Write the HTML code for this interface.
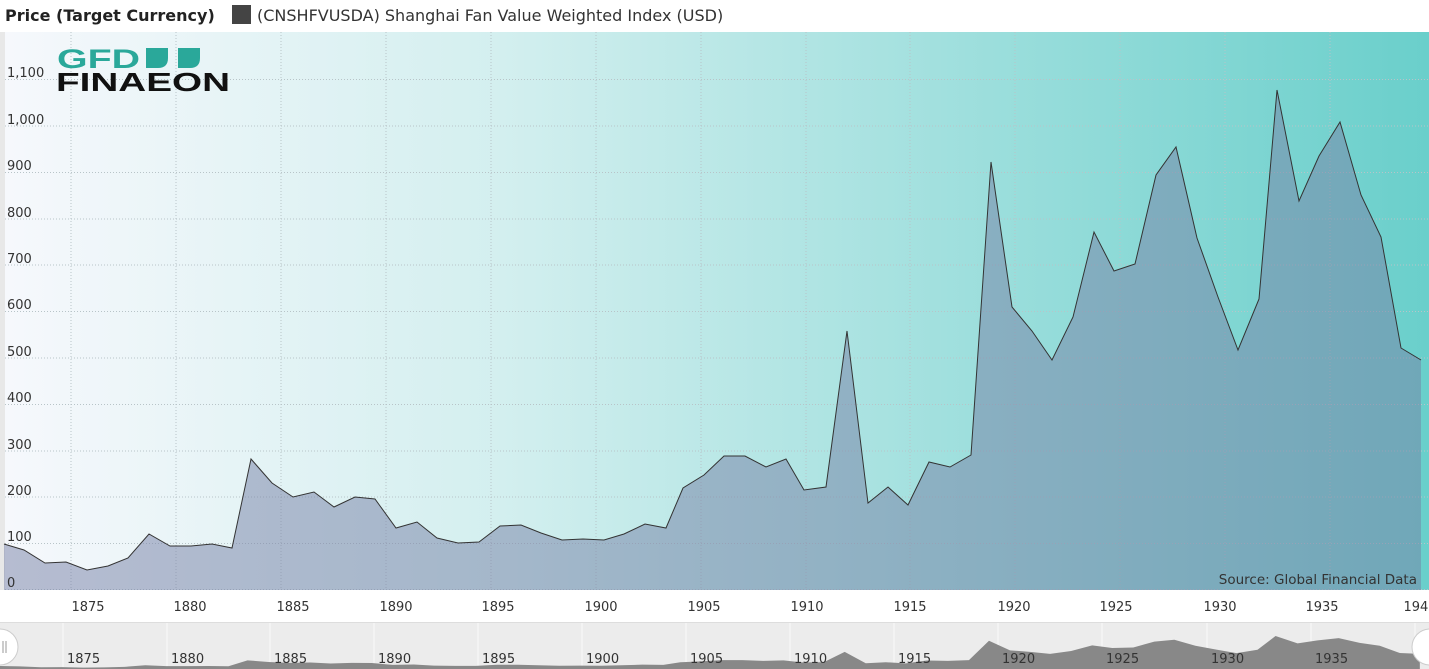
<!DOCTYPE html>
<html><head><meta charset="utf-8"><style>
html,body{margin:0;padding:0;background:#fff;width:1429px;height:669px;overflow:hidden;font-family:"Liberation Sans","DejaVu Sans",sans-serif}
</style></head><body>
<svg width="1429" height="669" viewBox="0 0 1429 669" xmlns="http://www.w3.org/2000/svg" font-family="'DejaVu Sans','Liberation Sans',sans-serif">
<defs>
<linearGradient id="bg" x1="0" x2="1" y1="0" y2="0">
<stop offset="0" stop-color="#f6f8fc"/><stop offset="0.35" stop-color="#d3efef"/><stop offset="1" stop-color="#6acfcb"/>
</linearGradient>
</defs>
<text x="5" y="21" font-size="16" font-weight="bold" fill="#222">Price (Target Currency)</text>
<rect x="232" y="5" width="19" height="19" fill="#444"/>
<text x="257" y="21" font-size="16" fill="#333">(CNSHFVUSDA) Shanghai Fan Value Weighted Index (USD)</text>
<rect x="0" y="32" width="5" height="558" fill="#e8e8e8"/>
<rect x="5" y="32" width="1424" height="558" fill="url(#bg)"/>
<g stroke="#b8c4c8" stroke-dasharray="1,2" stroke-width="1">
<line x1="5" x2="1429" y1="79.5" y2="79.5"/><line x1="5" x2="1429" y1="126" y2="126"/><line x1="5" x2="1429" y1="172.5" y2="172.5"/><line x1="5" x2="1429" y1="219" y2="219"/><line x1="5" x2="1429" y1="265" y2="265"/><line x1="5" x2="1429" y1="311.5" y2="311.5"/><line x1="5" x2="1429" y1="358" y2="358"/><line x1="5" x2="1429" y1="404.5" y2="404.5"/><line x1="5" x2="1429" y1="451" y2="451"/><line x1="5" x2="1429" y1="497" y2="497"/><line x1="5" x2="1429" y1="543.5" y2="543.5"/><line x1="5" x2="1429" y1="589.5" y2="589.5"/>
<line x1="71" x2="71" y1="32" y2="590"/><line x1="176" x2="176" y1="32" y2="590"/><line x1="281" x2="281" y1="32" y2="590"/><line x1="386" x2="386" y1="32" y2="590"/><line x1="491" x2="491" y1="32" y2="590"/><line x1="596" x2="596" y1="32" y2="590"/><line x1="701" x2="701" y1="32" y2="590"/><line x1="806" x2="806" y1="32" y2="590"/><line x1="910" x2="910" y1="32" y2="590"/><line x1="1015" x2="1015" y1="32" y2="590"/><line x1="1120" x2="1120" y1="32" y2="590"/><line x1="1225" x2="1225" y1="32" y2="590"/><line x1="1330" x2="1330" y1="32" y2="590"/>
</g>
<path d="M4,544 L24,550 L45,563 L66,562 L87,570 L108,566 L128,558 L149,534 L170,546 L191,546 L212,544 L232,548 L251,459 L272,483 L293,497 L314,492 L334,507 L355,497 L375,499 L396,528 L417,522 L437,538 L458,543 L479,542 L500,526 L521,525 L541,533 L562,540 L583,539 L604,540 L624,534 L645,524 L666,528 L683,488 L704,475 L724,456 L745,456 L766,467 L786,459 L804,490 L826,487 L847,331 L868,503 L888,487 L908,505 L929,462 L950,467 L971,455 L991,162 L1012,307 L1032,331 L1052,360 L1073,317 L1094,232 L1114,271 L1135,264 L1156,175 L1176,147 L1197,238 L1218,297 L1238,350 L1259,299 L1277,90 L1299,201 L1319,156 L1340,122 L1361,195 L1381,237 L1401,348 L1421,360 L1421,590 L4,590 Z" fill="rgba(118,128,165,0.5)" stroke="none"/>
<path d="M4,544 L24,550 L45,563 L66,562 L87,570 L108,566 L128,558 L149,534 L170,546 L191,546 L212,544 L232,548 L251,459 L272,483 L293,497 L314,492 L334,507 L355,497 L375,499 L396,528 L417,522 L437,538 L458,543 L479,542 L500,526 L521,525 L541,533 L562,540 L583,539 L604,540 L624,534 L645,524 L666,528 L683,488 L704,475 L724,456 L745,456 L766,467 L786,459 L804,490 L826,487 L847,331 L868,503 L888,487 L908,505 L929,462 L950,467 L971,455 L991,162 L1012,307 L1032,331 L1052,360 L1073,317 L1094,232 L1114,271 L1135,264 L1156,175 L1176,147 L1197,238 L1218,297 L1238,350 L1259,299 L1277,90 L1299,201 L1319,156 L1340,122 L1361,195 L1381,237 L1401,348 L1421,360" fill="none" stroke="#333" stroke-width="1"/>
<g font-size="13" fill="#333">
<text x="7" y="77">1,100</text><text x="7" y="124">1,000</text><text x="7" y="170">900</text><text x="7" y="217">800</text><text x="7" y="263">700</text><text x="7" y="309">600</text><text x="7" y="356">500</text><text x="7" y="402">400</text><text x="7" y="449">300</text><text x="7" y="495">200</text><text x="7" y="541">100</text><text x="7" y="587">0</text>
<text x="1417" y="584" text-anchor="end" font-size="13.5">Source: Global Financial Data</text>
</g>
<text x="57" y="68" font-size="27" font-weight="bold" fill="#2aa89a" font-family="'Liberation Sans',sans-serif" textLength="83" lengthAdjust="spacingAndGlyphs">GFD</text>
<path d="M146,48 h22 v10 q0,10 -10,10 h-12 z M178,48 h22 v10 q0,10 -10,10 h-12 z" fill="#2aa89a"/>
<text x="56" y="91" font-size="26" font-weight="bold" fill="#111" font-family="'Liberation Sans',sans-serif" textLength="174" lengthAdjust="spacingAndGlyphs">FINAEON</text>
<g font-size="13" fill="#333" text-anchor="middle">
<text x="88" y="611">1875</text><text x="190" y="611">1880</text><text x="293" y="611">1885</text><text x="396" y="611">1890</text><text x="498" y="611">1895</text><text x="601" y="611">1900</text><text x="704" y="611">1905</text><text x="807" y="611">1910</text><text x="910" y="611">1915</text><text x="1014" y="611">1920</text><text x="1116" y="611">1925</text><text x="1220" y="611">1930</text><text x="1322" y="611">1935</text><text x="1420" y="611">1940</text>
</g>
<rect x="0" y="623" width="1429" height="46" fill="#ececec"/>
<line x1="0" x2="1429" y1="622.5" y2="622.5" stroke="#ddd"/>
<g stroke="#fafafa" stroke-width="1">
<line x1="63" x2="63" y1="623" y2="669"/><line x1="167" x2="167" y1="623" y2="669"/><line x1="270" x2="270" y1="623" y2="669"/><line x1="374" x2="374" y1="623" y2="669"/><line x1="478" x2="478" y1="623" y2="669"/><line x1="582" x2="582" y1="623" y2="669"/><line x1="686" x2="686" y1="623" y2="669"/><line x1="790" x2="790" y1="623" y2="669"/><line x1="894" x2="894" y1="623" y2="669"/><line x1="998" x2="998" y1="623" y2="669"/><line x1="1102" x2="1102" y1="623" y2="669"/><line x1="1207" x2="1207" y1="623" y2="669"/><line x1="1311" x2="1311" y1="623" y2="669"/><line x1="1415" x2="1415" y1="623" y2="669"/>
</g>
<path transform="matrix(1.002 0 0 0.066 -4 630.06)" fill="#888" d="M4,544 L24,550 L45,563 L66,562 L87,570 L108,566 L128,558 L149,534 L170,546 L191,546 L212,544 L232,548 L251,459 L272,483 L293,497 L314,492 L334,507 L355,497 L375,499 L396,528 L417,522 L437,538 L458,543 L479,542 L500,526 L521,525 L541,533 L562,540 L583,539 L604,540 L624,534 L645,524 L666,528 L683,488 L704,475 L724,456 L745,456 L766,467 L786,459 L804,490 L826,487 L847,331 L868,503 L888,487 L908,505 L929,462 L950,467 L971,455 L991,162 L1012,307 L1032,331 L1052,360 L1073,317 L1094,232 L1114,271 L1135,264 L1156,175 L1176,147 L1197,238 L1218,297 L1238,350 L1259,299 L1277,90 L1299,201 L1319,156 L1340,122 L1361,195 L1381,237 L1401,348 L1421,360 L1421,590 L4,590 Z"/>
<g font-size="13" fill="#333">
<text x="67" y="663">1875</text><text x="171" y="663">1880</text><text x="274" y="663">1885</text><text x="378" y="663">1890</text><text x="482" y="663">1895</text><text x="586" y="663">1900</text><text x="690" y="663">1905</text><text x="794" y="663">1910</text><text x="898" y="663">1915</text><text x="1002" y="663">1920</text><text x="1106" y="663">1925</text><text x="1211" y="663">1930</text><text x="1315" y="663">1935</text><text x="1419" y="663">1940</text>
</g>
<circle cx="0" cy="647" r="18" fill="#fff" stroke="#ccc"/>
<line x1="3" x2="3" y1="641" y2="653" stroke="#999"/><line x1="6" x2="6" y1="641" y2="653" stroke="#999"/>
<circle cx="1430" cy="647" r="18" fill="#fff" stroke="#ccc"/>
</svg>
</body></html>
